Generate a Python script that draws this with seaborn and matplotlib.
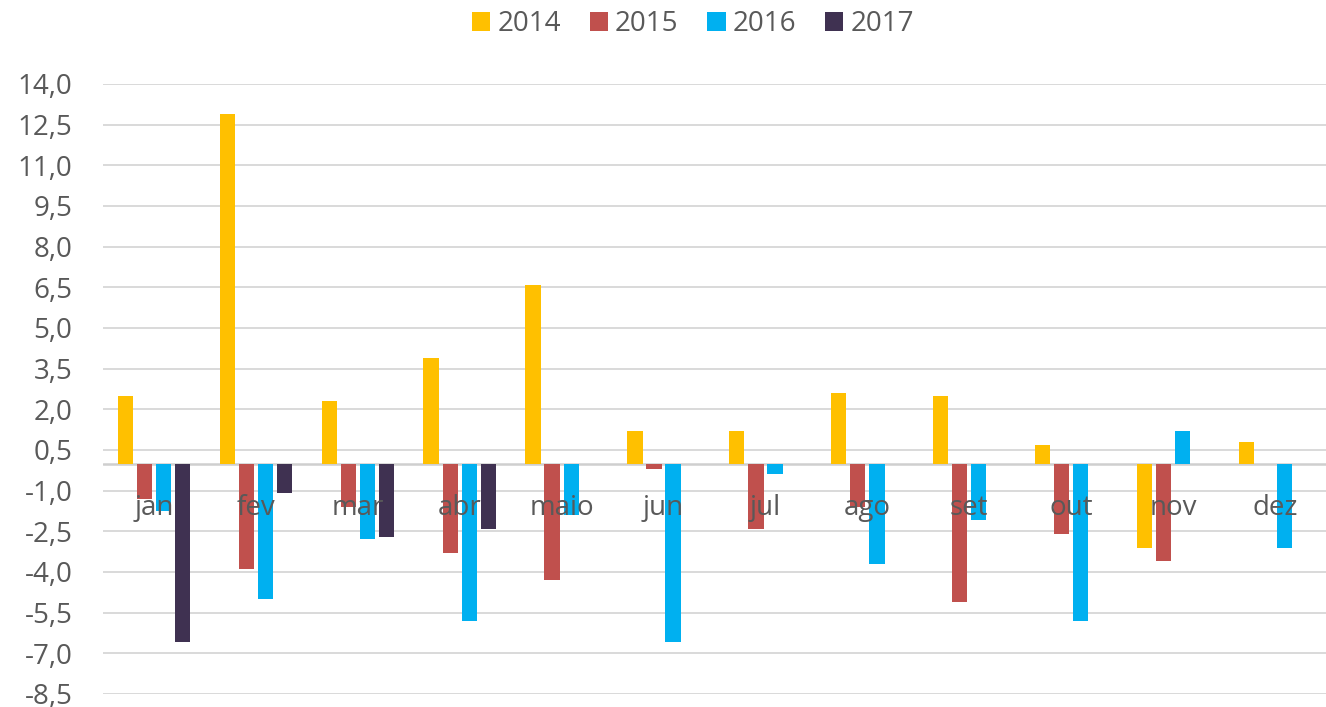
import numpy as np
import pandas as pd
import matplotlib
matplotlib.use("Agg")
import matplotlib.pyplot as plt
import seaborn as sns

months = ["jan", "fev", "mar", "abr", "maio", "jun", "jul", "ago", "set", "out", "nov", "dez"]
years = ["2014", "2015", "2016", "2017"]
v2014 = [2.5, 12.9, 2.3, 3.9, 6.6, 1.2, 1.2, 2.6, 2.5, 0.7, -3.1, 0.8]
v2015 = [-1.3, -3.9, -1.6, -3.3, -4.3, -0.2, -2.4, -1.6, -5.1, -2.6, -3.6, np.nan]
v2016 = [-1.75, -5.0, -2.8, -5.8, -1.9, -6.6, -0.4, -3.7, -2.1, -5.8, 1.2, -3.1]
v2017 = [-6.6, -1.1, -2.7, -2.4, np.nan, np.nan, np.nan, np.nan, np.nan, np.nan, np.nan, np.nan]
colors = ["#FFC000", "#C0504D", "#00B0F0", "#3F3151"]
yticks = np.arange(-8.5, 14.01, 1.5)

rows = []
for yr, vals in zip(years, [v2014, v2015, v2016, v2017]):
    for m, v in zip(months, vals):
        if not np.isnan(v):
            rows.append({"mes": m, "ano": yr, "valor": v})
df = pd.DataFrame(rows)

sns.set_theme(style="white")
plt.rcParams["font.family"] = ["Open Sans", "DejaVu Sans"]
txt = "#595959"
fs = 20

fig = plt.figure(figsize=(13.26, 7.07), dpi=100)
ax = fig.add_axes([0.0777, 0.0184, 0.9223, 0.8628])

sns.barplot(data=df, x="mes", y="valor", hue="ano", order=months, hue_order=years,
            palette=colors, width=0.75, gap=0.2, errorbar=None, ax=ax,
            saturation=1, linewidth=0, zorder=3)

ax.set_ylim(-8.5, 14.0)
ax.set_xlim(-0.5, 11.5)
ax.set_yticks(yticks)
ax.set_yticklabels([f"{v:.1f}".replace(".", ",") for v in yticks], color=txt, fontsize=fs)
ax.yaxis.grid(True, color="#d9d9d9", linewidth=1.4, zorder=0)
ax.xaxis.grid(False)
ax.axhline(0, color="#cfcfcf", linewidth=1.8, zorder=2)
for s in ["top", "right", "left", "bottom"]:
    ax.spines[s].set_visible(False)
ax.set_xticks(range(len(months)))
ax.set_xticklabels([])
ax.tick_params(axis="x", length=0)
ax.tick_params(axis="y", length=0, pad=22)
for i, m in enumerate(months):
    ax.annotate(m, xy=(i, 0), xytext=(0, -37), textcoords="offset points",
                ha="center", va="baseline", color=txt, fontsize=fs, zorder=10,
                annotation_clip=False)
ax.set_xlabel("")
ax.set_ylabel("")

handles, labels = ax.get_legend_handles_labels()
if ax.legend_:
    ax.legend_.remove()
fig.legend(handles, labels, loc="center", bbox_to_anchor=(0.5226, 0.966), ncol=4,
           frameon=False, fontsize=fs, labelcolor=txt, handlelength=0.65,
           handleheight=0.65, handletextpad=0.25, columnspacing=1.05,
           borderpad=0, borderaxespad=0)

fig.savefig("out.png", dpi=100)
